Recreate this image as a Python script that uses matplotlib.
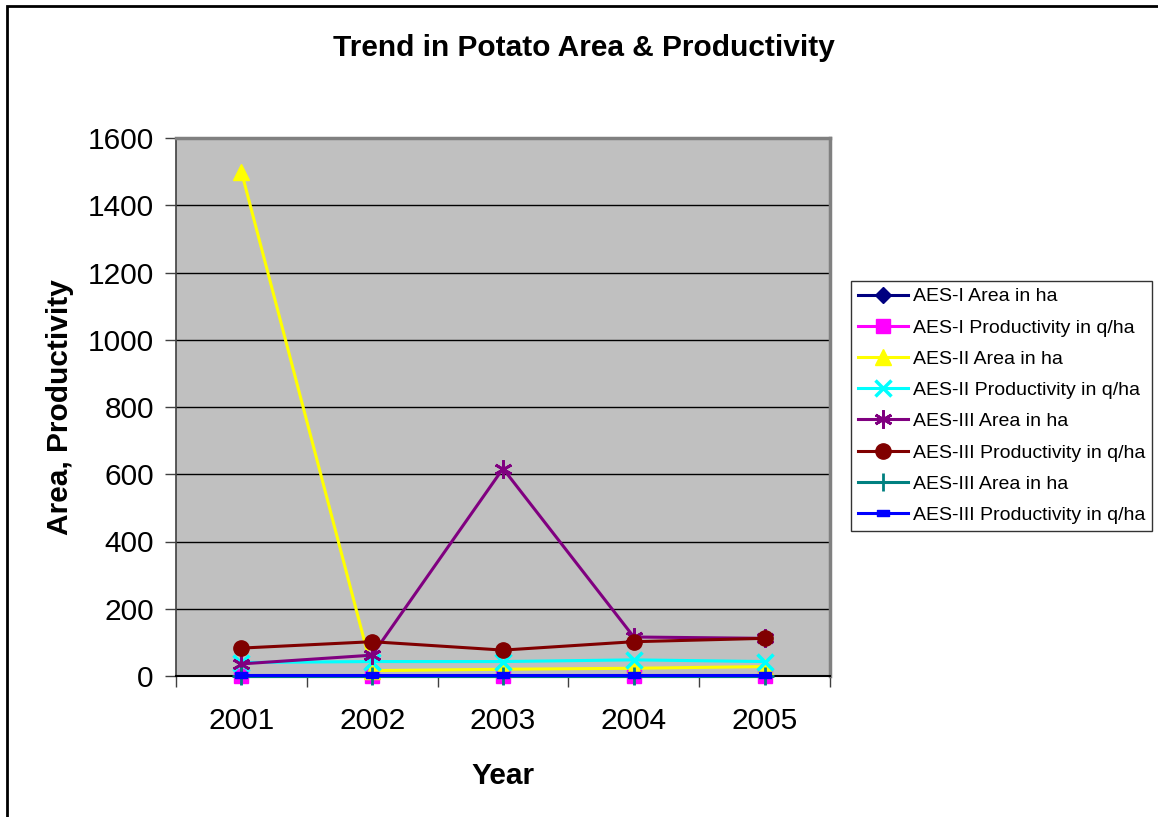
import matplotlib
matplotlib.use("Agg")
import matplotlib.pyplot as plt
from matplotlib.path import Path
from matplotlib.patches import Rectangle
import numpy as np

plt.rcParams['font.family'] = ['Liberation Sans', 'DejaVu Sans']

years = ['2001', '2002', '2003', '2004', '2005']

aes1_area = [1, 1, 1, 1, 1]
aes1_prod = [0, 0, 0, 0, 0]
aes2_area = [1500, 16, 20, 23, 28]
aes2_prod = [40, 43, 43, 48, 43]
aes3_area = [36, 62, 617, 116, 112]
aes3_prod = [83, 102, 77, 102, 112]
aes3_area_b = [1, 1, 1, 1, 1]
aes3_prod_b = [2, 2, 2, 2, 2]

series_labels = [
    'AES-I Area in ha',
    'AES-I Productivity in q/ha',
    'AES-II Area in ha',
    'AES-II Productivity in q/ha',
    'AES-III Area in ha',
    'AES-III Productivity in q/ha',
    'AES-III Area in ha',
    'AES-III Productivity in q/ha',
]

y_ticks = [0, 200, 400, 600, 800, 1000, 1200, 1400, 1600]

dash_marker = Path([(-1, -0.45), (1, -0.45), (1, 0.45), (-1, 0.45), (-1, -0.45)],
                   [Path.MOVETO, Path.LINETO, Path.LINETO, Path.LINETO, Path.CLOSEPOLY])

styles = [
    dict(color='#000080', marker='D', ms=8),
    dict(color='#FF00FF', marker='s', ms=10),
    dict(color='#FFFF00', marker='^', ms=11),
    dict(color='#00FFFF', marker='x', ms=11, mew=2.5),
    dict(color='#800080', marker=(6, 2, 0), ms=13, mew=2),
    dict(color='#800000', marker='o', ms=11),
    dict(color='#008080', marker='+', ms=13, mew=2),
    dict(color='#0000FF', marker=dash_marker, ms=9),
]

data = [aes1_area, aes1_prod, aes2_area, aes2_prod,
        aes3_area, aes3_prod, aes3_area_b, aes3_prod_b]

W, H = 1158, 817
fig = plt.figure(figsize=(W / 100, H / 100), dpi=100)
fig.patch.set_facecolor('white')

# outer chart border
fig.add_artist(Rectangle((7 / W, -0.05), 1.2, 1 - 6 / H + 0.05,
                         transform=fig.transFigure, fill=False,
                         edgecolor='black', lw=2, zorder=0))

ax = fig.add_axes([176 / W, 1 - 676 / H, (830 - 176) / W, (676 - 138) / H])
ax.set_facecolor('#C0C0C0')

x = np.arange(len(years))
for vals, lab, st in zip(data, series_labels, styles):
    ax.plot(x, vals, label=lab, lw=2.2, color=st['color'], marker=st['marker'],
            markersize=st['ms'], markeredgewidth=st.get('mew', 1),
            markerfacecolor=st['color'], markeredgecolor=st['color'],
            clip_on=False, zorder=3)

ax.set_xlim(-0.5, len(years) - 0.5)
ax.set_ylim(0, 1600)
ax.set_yticks(y_ticks)
ax.set_yticklabels([str(v) for v in y_ticks])
ax.yaxis.grid(True, color='black', lw=1)
ax.set_axisbelow(True)

# category boundaries carry the tick marks, labels sit at the centres
ax.set_xticks(np.arange(-0.5, len(years), 1.0))
ax.set_xticklabels([''] * (len(years) + 1))
ax.set_xticks(x, minor=True)
ax.set_xticklabels(years, minor=True)
ax.tick_params(axis='x', which='major', direction='out', length=8, width=1, color='#404040')
ax.tick_params(axis='x', which='minor', length=0, pad=22, labelsize=21.5)
ax.tick_params(axis='y', direction='out', length=8, width=1, color='#404040', pad=8, labelsize=21.5)

for side in ('top', 'right'):
    ax.spines[side].set_color('#808080')
    ax.spines[side].set_linewidth(2.5)
ax.spines['left'].set_color('#404040')
ax.spines['bottom'].set_color('black')
ax.spines['left'].set_linewidth(1.2)
ax.spines['bottom'].set_linewidth(1.5)

ax.set_xlabel('Year', fontsize=21.5, fontweight='bold', labelpad=20)
ax.set_ylabel('Area, Productivity', fontsize=21.5, fontweight='bold', labelpad=10)
fig.text(584 / W, 1 - 48 / H, 'Trend in Potato Area & Productivity',
         fontsize=21.5, fontweight='bold', ha='center', va='center')

leg = fig.legend(loc='upper left', bbox_to_anchor=(851 / W, 1 - 281 / H),
                 bbox_transform=fig.transFigure, fontsize=14, frameon=True,
                 fancybox=False, edgecolor='black', handlelength=2.6,
                 handletextpad=0.25, labelspacing=0.70, borderpad=0.35,
                 borderaxespad=0, markerscale=1.0)
leg.get_frame().set_linewidth(1)

fig.savefig('out.png', dpi=100)
